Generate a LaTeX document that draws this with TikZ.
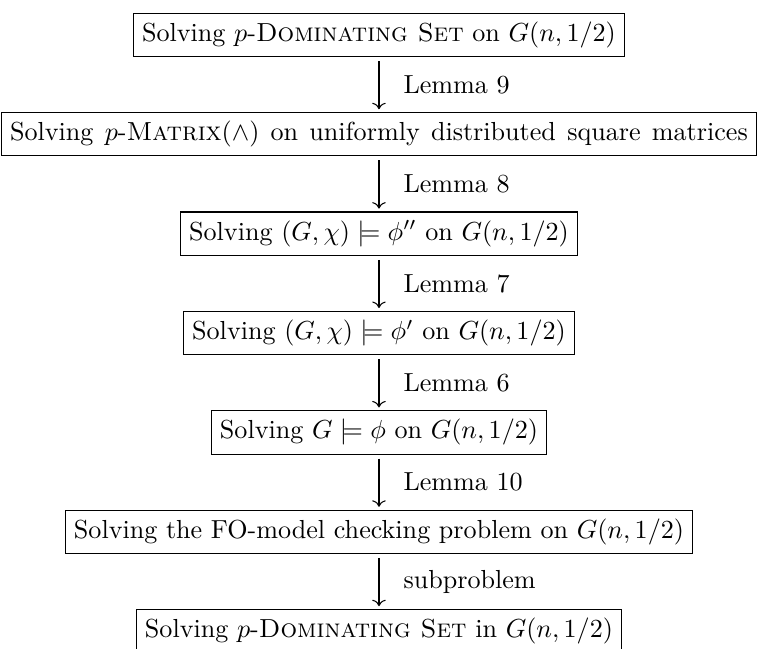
\documentclass[tikz,border=0pt]{standalone}
\usetikzlibrary{cd}
\begin{document}
\begin{tikzpicture}[
  box/.style={draw, line width=0.4pt, inner sep=3.3pt},
  lab/.style={anchor=west, inner sep=0pt, xshift=9.2pt},
  arr/.style={-{cm to}, line width=0.4pt, shorten <=1.5pt, shorten >=1.1pt}]
\useasboundingbox (-145.21pt, 51.46pt) rectangle (145.21pt, -197.20pt);
\node[box] (b1) at (0pt, 38.08pt) {Solving $p$-\textsc{Dominating Set} on $G(n,1/2)$};
\node[box] (b2) at (0pt, 0pt) {\makebox[282.65pt][s]{Solving $p$-\textsc{Matrix}$(\wedge)$ on uniformly distributed square matrices}};
\node[box] (b3) at (0pt, -38.08pt) {Solving $(G,\chi)\models\phi''$ on $G(n,1/2)$};
\node[box] (b4) at (0pt, -76.16pt) {Solving $(G,\chi)\models\phi'$ on $G(n,1/2)$};
\node[box] (b5) at (0pt, -114.24pt) {Solving $G\models\phi$ on $G(n,1/2)$};
\node[box] (b6) at (0pt, -152.32pt) {Solving the FO-model checking problem on $G(n,1/2)$};
\node[box] (b7) at (0pt, -190.40pt) {Solving $p$-\textsc{Dominating Set} in $G(n,1/2)$};
\draw[arr] (b1) -- node[lab] (l1) {Lemma 9} (b2);
\draw[arr] (b2) -- node[lab] (l2) {Lemma 8} (b3);
\draw[arr] (b3) -- node[lab] (l3) {Lemma 7} (b4);
\draw[arr] (b4) -- node[lab] (l4) {Lemma 6} (b5);
\draw[arr] (b5) -- node[lab] (l5) {Lemma 10} (b6);
\draw[arr] (b6) -- node[lab] (l6) {subproblem} (b7);
\end{tikzpicture}
\end{document}
